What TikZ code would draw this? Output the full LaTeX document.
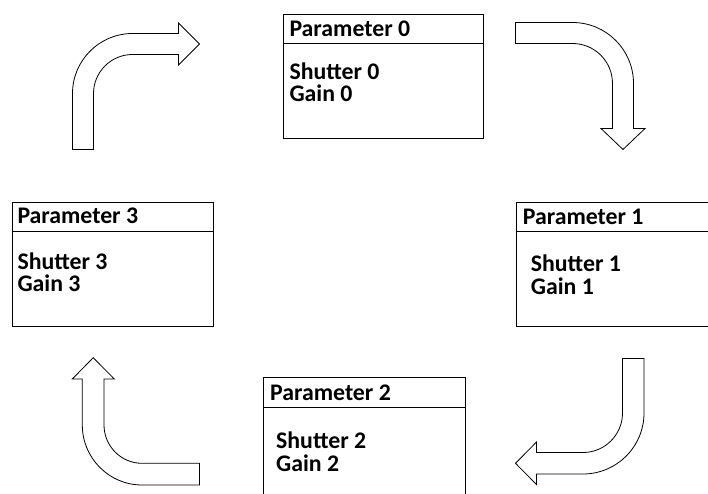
\documentclass[tikz,border=0pt]{standalone}
\usepackage{fontspec}
\setmainfont{Carlito}
\usetikzlibrary{calc}
\begin{document}
\begin{tikzpicture}[x=1pt,y=-1pt,
  boxst/.style={draw=black, line width=0.9pt, inner sep=0pt, anchor=north west},
  txt/.style={anchor=base west, inner sep=0pt, text height=15pt, text depth=0pt, font=\fontsize{23.8}{26}\selectfont\bfseries},
  blockarrow/.style={draw=black, line width=0.8pt, fill=white, line join=miter}]
\useasboundingbox (0,0) rectangle (708,494);
\clip (0,0) rectangle (708,494);

% boxes
\node[boxst, minimum width=200.6pt, minimum height=124.3pt] (b0) at (282.7,14) {};
\draw[line width=0.9pt] ($(b0.north west)+(0,29.3)$) -- ($(b0.north east)+(0,29.3)$);
\node[txt] (b0t) at (289.3,36.7) {Parameter 0};
\node[txt] (b0s) at (289.3,79.1) {Shutter 0};
\node[txt] (b0g) at (289.3,101.3) {Gain 0};

\node[boxst, minimum width=210pt, minimum height=124.3pt] (b1) at (515.7,201.7) {};
\draw[line width=0.9pt] ($(b1.north west)+(0,30)$) -- ($(b1.north east)+(0,30)$);
\node[txt] (b1t) at (522.7,224) {Parameter 1};
\node[txt] (b1s) at (530.7,271.7) {Shutter 1};
\node[txt] (b1g) at (530.7,294) {Gain 1};

\node[boxst, minimum width=201.7pt, minimum height=140pt] (b2) at (263.3,377.3) {};
\draw[line width=0.9pt] ($(b2.north west)+(0,30)$) -- ($(b2.north east)+(0,30)$);
\node[txt] (b2t) at (270,400.3) {Parameter 2};
\node[txt] (b2s) at (276,448.3) {Shutter 2};
\node[txt] (b2g) at (276,471) {Gain 2};

\node[boxst, minimum width=201.6pt, minimum height=124.3pt] (b3) at (11.7,201.7) {};
\draw[line width=0.9pt] ($(b3.north west)+(0,30)$) -- ($(b3.north east)+(0,30)$);
\node[txt] (b3t) at (17.3,223.7) {Parameter 3};
\node[txt] (b3s) at (17.3,269.5) {Shutter 3};
\node[txt] (b3g) at (17.3,291.3) {Gain 3};

% top-left bent arrow
\draw[blockarrow] (72.5,149.5) -- (72.5,93.5)
  .. controls (72.5,60.4) and (99.4,33.5) .. (132.5,33.5)
  -- (178.5,33.5) -- (178.5,23) -- (199.5,44) -- (178.5,65) -- (178.5,54.5)
  -- (132.5,54.5) .. controls (111,54.5) and (93.5,72) .. (93.5,93.5)
  -- (93.5,149.5) -- cycle;

% top-right bent arrow
\draw[blockarrow] (515.5,22.5) -- (572.5,22.5)
  .. controls (606.2,22.5) and (633.5,49.8) .. (633.5,83.5)
  -- (633.5,128.5) -- (645,128.5) -- (623,149.5) -- (601,128.5) -- (612.5,128.5)
  -- (612.5,83.5) .. controls (612.5,61.4) and (594.6,43.5) .. (572.5,43.5)
  -- (515.5,43.5) -- cycle;

% bottom-right bent arrow
\draw[blockarrow] (622.5,358.5) -- (644,358.5) -- (644,413)
  .. controls (644,446.7) and (616.7,474) .. (583,474)
  -- (536.5,474) -- (536.5,484.5) -- (515.5,463.3) -- (536.5,442) -- (536.5,452.5)
  -- (583,452.5) .. controls (604.8,452.5) and (622.5,434.8) .. (622.5,413)
  -- cycle;

% bottom-left bent arrow
\draw[blockarrow] (199.5,463.3) -- (142,463.3)
  .. controls (121,463.3) and (104,446) .. (104,425)
  -- (104,379) -- (114.3,379) -- (93.2,357.7) -- (72.3,379) -- (82.3,379)
  -- (82.3,425) .. controls (82.3,458) and (109,485) .. (142,485)
  -- (199.5,485) -- cycle;
\end{tikzpicture}
\end{document}
